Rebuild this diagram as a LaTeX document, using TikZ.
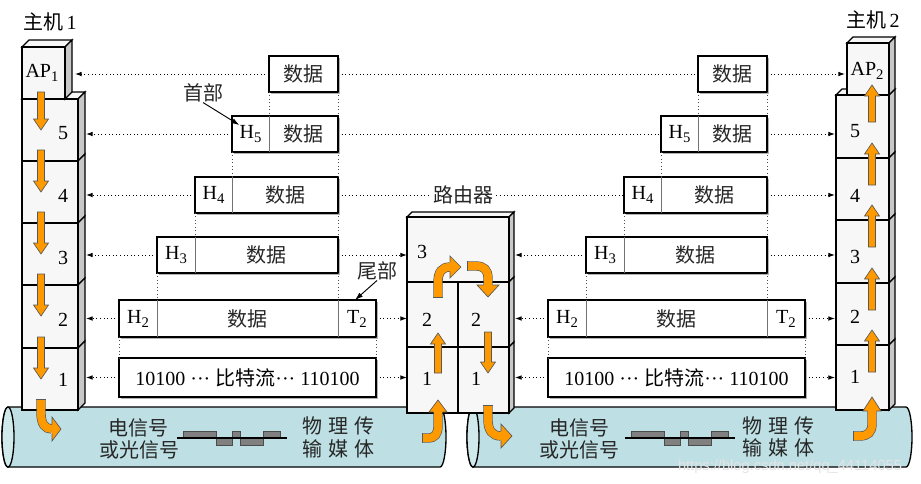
\documentclass[tikz,border=0pt]{standalone}
\usepackage{fontspec}
\setmainfont{Liberation Serif}
\newfontfamily\cjk{Noto Sans CJK SC}
\newfontfamily\wmfont{Liberation Sans}
\usetikzlibrary{fit,calc,arrows.meta,shadows}
\definecolor{ora}{RGB}{255,153,0}
\definecolor{tube}{RGB}{190,224,228}
\definecolor{tubecap}{RGB}{208,234,236}
\definecolor{sidegray}{RGB}{200,200,200}
\definecolor{face}{RGB}{247,247,247}
\newcommand\lsub[1]{\raisebox{-0.45ex}{\fontsize{11}{11}\selectfont #1}}
% tube body with caps
\newcommand\tube[2]{%
  \path[tubeline] (#1,407) -- (#2,407) .. controls (#2+3.3,407) and (#2+6,420.4) .. (#2+6,437) .. controls (#2+6,453.6) and (#2+3.3,467) .. (#2,467) -- (#1,467) .. controls (#1-3.3,467) and (#1-6,453.6) .. (#1-6,437) .. controls (#1-6,420.4) and (#1-3.3,407) .. (#1,407) -- cycle;
  \path[capline] (#1,407) .. controls (#1+3.3,407) and (#1+6,420.4) .. (#1+6,437) .. controls (#1+6,453.6) and (#1+3.3,467) .. (#1,467) .. controls (#1-3.3,467) and (#1-6,453.6) .. (#1-6,437) .. controls (#1-6,420.4) and (#1-3.3,407) .. (#1,407) -- cycle;}
\newcommand\wave[1]{%
  \begin{scope}[shift={(#1,0)}]
  \path[wavefill] (6,438) rectangle (39,431);
  \path[wavefill] (39,438) rectangle (55,445);
  \path[wavefill] (55,438) rectangle (63,431);
  \path[wavefill] (63,438) rectangle (86,445);
  \path[wavefill] (86,438) rectangle (103,431);
  \draw[line width=0.8pt] (0,438) -- (110,438);
  \end{scope}}
\newcommand\slab[6]{%
  \path[sideface] (#4,#3) -- (#4+#6,#3-#6) -- (#4+#6,#5-#6) -- (#4,#5) -- cycle;
  \node[layer, fit={(#2,#3) (#4,#5)}] (#1) {};}
\newcommand\lid[4]{%
  \path[topface] (#1,#2) -- (#1+#4,#2-#4) -- (#3+#4,#2-#4) -- (#3,#2) -- cycle;}
\newcommand\flowdown[3]{%
  \path[flow] (#1-3.5,#2) -- (#1+3.5,#2) -- (#1+3.5,#3-11) -- (#1+7.5,#3-11) -- (#1,#3) -- (#1-7.5,#3-11) -- (#1-3.5,#3-11) -- cycle;}
\newcommand\flowup[3]{%
  \path[flow] (#1-3.5,#2) -- (#1+3.5,#2) -- (#1+3.5,#3+11) -- (#1+7.5,#3+11) -- (#1,#3) -- (#1-7.5,#3+11) -- (#1-3.5,#3+11) -- cycle;}
\newcommand\headR[4]{%
  \path[flow] (#1,#2-4.6) -- (#1,#2-#4) -- (#3,#2) -- (#1,#2+#4) -- (#1,#2+4.6);}
\newcommand\headV[4]{%
  \path[flow] (#1-4.6,#2) -- (#1-#4,#2) -- (#1,#3) -- (#1+#4,#2) -- (#1+4.6,#2);}
\newcommand\frameset[2]{%
  \begin{scope}[shift={(#2,0)}]
  \node[frame, fit={(150,56) (219,92)}] (#1a) {};
  \node[ctxt] (#1at) at (184.5,74) {数据};
  \node[frame, fit={(113,116) (219,152)}] (#15) {};
  \draw[divider] (150,116) -- (150,152);
  \node[txt] (#15h) at (131.5,134) {H\lsub{5}};
  \node[ctxt] (#15t) at (184.5,134) {数据};
  \node[frame, fit={(76,177) (219,213)}] (#14) {};
  \draw[divider] (113,177) -- (113,213);
  \node[txt] (#14h) at (94.5,195) {H\lsub{4}};
  \node[ctxt] (#14t) at (166,195) {数据};
  \node[frame, fit={(38,237) (219,273)}] (#13) {};
  \draw[divider] (76,237) -- (76,273);
  \node[txt] (#13h) at (57,255) {H\lsub{3}};
  \node[ctxt] (#13t) at (147.5,255) {数据};
  \node[frame, fit={(0,300) (257,337)}] (#12) {};
  \draw[divider] (38,300) -- (38,337);
  \draw[divider] (219,300) -- (219,337);
  \node[txt] (#12h) at (19,319) {H\lsub{2}};
  \node[ctxt] (#12t) at (128.5,319) {数据};
  \node[txt] (#12e) at (238,319) {T\lsub{2}};
  \node[frame, fit={(0,358) (257,397)}] (#11) {};
  \node[txt] (#11t) at (128.5,378) {10100 ··· {\cjk 比特流}··· 110100};
  \draw[guide] (#1a.south west) -- (#1a.south west |- #15.north);
  \draw[guide] (#1a.south east) -- (#1a.south east |- #15.north);
  \draw[guide] (#15.south west) -- (#15.south west |- #14.north);
  \draw[guide] (#15.south east) -- (#15.south east |- #14.north);
  \draw[guide] (#14.south west) -- (#14.south west |- #13.north);
  \draw[guide] (#14.south east) -- (#14.south east |- #13.north);
  \draw[guide] (#13.south west) -- (#13.south west |- #12.north);
  \draw[guide] (#13.south east) -- (#13.south east |- #12.north);
  \draw[guide] (#12.south west) -- (#12.south west |- #11.north);
  \draw[guide] (#12.south east) -- (#12.south east |- #11.north);
  \end{scope}}
\begin{document}
\begin{tikzpicture}[x=0.75pt,y=-0.75pt,
  txt/.style={inner sep=0pt, font=\fontsize{15}{15}\selectfont},
  ctxt/.style={inner sep=0pt, font=\fontsize{15}{15}\selectfont\cjk, text=black!85},
  frame/.style={draw, line width=1.5pt, fill=white, inner sep=0pt, outer sep=0pt,
    drop shadow={shadow xshift=1.6pt, shadow yshift=-1.6pt, fill=black!30, opacity=1}},
  layer/.style={draw, line width=1pt, fill=face, inner sep=0pt, outer sep=0pt},
  sideface/.style={draw, line width=1pt, fill=sidegray},
  topface/.style={draw, line width=1pt, fill=face},
  divider/.style={draw=black!55, line width=0.7pt},
  guide/.style={dotted, line width=0.6pt, black!70},
  link/.style={dotted, line width=0.7pt, -{Latex[length=5pt,width=3.5pt]}},
  plainlink/.style={dotted, line width=0.7pt},
  pointer/.style={line width=0.7pt, -{Latex[length=6pt,width=4pt]}},
  flow/.style={fill=ora, draw=black!65, line width=0.5pt},
  bent/.style={draw=black!65, line width=0.5pt, double=ora, double distance=6pt},
  tailcap/.style={draw=black!65, line width=0.5pt},
  tubeline/.style={draw, line width=1pt, fill=tube},
  capline/.style={draw, line width=1pt, fill=tubecap},
  wavefill/.style={fill=black!50, draw=black!70, line width=0.4pt},
]
\useasboundingbox (0,0) rectangle (921,483);

% transmission media
\tube{8}{440}
\tube{473}{906}
\node[ctxt] (sigL1) at (138,428) {电信号};
\node[ctxt] (sigL2) at (139,450) {或光信号};
\node[ctxt] (medL1) at (338,426) {物\hspace{4.5pt}理\hspace{4.5pt}传};
\node[ctxt] (medL2) at (338,449) {输\hspace{4.5pt}媒\hspace{4.5pt}体};
\wave{177}
\node[ctxt] (sigR1) at (579,428) {电信号};
\node[ctxt] (sigR2) at (579,450) {或光信号};
\node[ctxt] (medR1) at (778,426) {物\hspace{4.5pt}理\hspace{4.5pt}传};
\node[ctxt] (medR2) at (778,448) {输\hspace{4.5pt}媒\hspace{4.5pt}体};
\wave{625}

% host 1
\lid{22}{99}{78}{7}
\slab{hl5}{22}{99}{78}{161}{7}
\slab{hl4}{22}{161}{78}{223}{7}
\slab{hl3}{22}{223}{78}{285}{7}
\slab{hl2}{22}{285}{78}{348}{7}
\slab{hl1}{22}{348}{78}{410}{7}
\lid{22}{47}{65}{7}
\slab{hlap}{22}{47}{65}{99}{7}
\node[txt] (hlapt) at (42,73) {AP\lsub{1}};
\node[txt] (hl5t) at (63,133) {5};
\node[txt] (hl4t) at (63,196) {4};
\node[txt] (hl3t) at (63,258) {3};
\node[txt] (hl2t) at (63,320) {2};
\node[txt] (hl1t) at (63,380) {1};
\node[txt] (host1) at (50,22) {{\cjk 主机}\,1};

% host 2
\lid{836}{95}{889}{6}
\slab{hr5}{836}{95}{889}{158}{6}
\slab{hr4}{836}{158}{889}{220}{6}
\slab{hr3}{836}{220}{889}{283}{6}
\slab{hr2}{836}{283}{889}{345}{6}
\slab{hr1}{836}{345}{889}{410}{6}
\lid{847}{43}{889}{6}
\slab{hrap}{847}{43}{889}{95}{6}
\node[txt] (hrapt) at (867,71) {AP\lsub{2}};
\node[txt] (hr5t) at (855,131) {5};
\node[txt] (hr4t) at (855,196) {4};
\node[txt] (hr3t) at (855,257) {3};
\node[txt] (hr2t) at (855,317) {2};
\node[txt] (hr1t) at (855,377) {1};
\node[txt] (host2) at (873,20) {{\cjk 主机}\,2};

% router
\lid{407}{217}{509}{5}
\slab{rt3}{407}{217}{509}{282}{5}
\slab{rt2b}{458}{282}{509}{347}{5}
\slab{rt1b}{458}{347}{509}{413}{5}
\node[layer, fit={(407,282) (458,347)}] (rt2a) {};
\node[layer, fit={(407,347) (458,413)}] (rt1a) {};
\node[txt] (rt3t) at (422,252) {3};
\node[txt] (rt2at) at (427,320) {2};
\node[txt] (rt2bt) at (476,320) {2};
\node[txt] (rt1at) at (427,379) {1};
\node[txt] (rt1bt) at (476,379) {1};

% protocol data units
\frameset{fl}{119}
\frameset{fr}{548}

% dotted correspondences
\coordinate (lapedge) at (75,0);
\coordinate (lstedge) at (86,0);
\coordinate (rapedge) at (845,0);
\coordinate (rstedge) at (835,0);
\coordinate (rtedge) at (515,0);
\draw[link] (fla.west) -- (fla.west -| lapedge);
\draw[link] (fl5.west) -- (fl5.west -| lstedge);
\draw[link] (fl4.west) -- (fl4.west -| lstedge);
\draw[link] (fl3.west) -- (fl3.west -| lstedge);
\draw[link] (fl2.west) -- (fl2.west -| lstedge);
\draw[link] (fl1.west) -- (fl1.west -| lstedge);
\draw[link] (fra.east) -- (fra.east -| rapedge);
\draw[link] (fr5.east) -- (fr5.east -| rstedge);
\draw[link] (fr4.east) -- (fr4.east -| rstedge);
\draw[link] (fr3.east) -- (fr3.east -| rstedge);
\draw[link] (fr2.east) -- (fr2.east -| rstedge);
\draw[link] (fr1.east) -- (fr1.east -| rstedge);
\draw[plainlink] (fla.east) -- (fra.west);
\draw[plainlink] (fl5.east) -- (fr5.west);
\draw[plainlink] (fl4.east) -- (fr4.west);
\node[ctxt, fill=white, inner sep=2pt] (router) at (463,195) {路由器};
\draw[link] (fl3.east) -- (fl3.east -| rt3.west);
\draw[link] (fr3.west) -- (fr3.west -| rtedge);
\draw[link] (fl2.east) -- (fl2.east -| rt2a.west);
\draw[link] (fr2.west) -- (fr2.west -| rtedge);
\draw[link] (fl1.east) -- (fl1.east -| rt1a.west);
\draw[link] (fr1.west) -- (fr1.west -| rtedge);

% header / trailer labels
\node[ctxt] (hdr) at (203,93) {首部};
\draw[pointer] (hdr.south) -- (fl5h.north west);
\node[ctxt] (tlr) at (377,271) {尾部};
\coordinate (tlrtip) at (355,300);
\draw[pointer] (tlr.south) -- (tlrtip);

% data flow arrows, host 1
\flowdown{41}{92}{130}
\flowdown{41}{150}{192}
\flowdown{41}{212}{254}
\flowdown{41}{274}{316}
\flowdown{41}{337}{379}
\draw[bent] (41,399) -- (41,413) .. controls (41,424) and (45,429) .. (52,429);
\draw[tailcap] (36.3,399) -- (45.7,399);
\headR{52}{429}{61}{12}

% router
\draw[bent] (422,438) -- (428,438) .. controls (435,438) and (438,434) .. (438,426) -- (438,412);
\draw[tailcap] (422,433.3) -- (422,442.7);
\headV{438}{412}{400}{9}
\flowup{438}{373}{333}
\draw[bent] (438,297) -- (438,282) .. controls (438,272) and (442,267) .. (450,267);
\draw[tailcap] (433.3,297) -- (442.7,297);
\headR{450}{267}{461}{11}
\draw[bent] (467,266) -- (476,266) .. controls (484,266) and (488,270) .. (488,278) -- (488,285);
\draw[tailcap] (467,261.3) -- (467,270.7);
\headV{488}{285}{297}{11}
\flowdown{488}{332}{373}
\draw[bent] (488,405) -- (488,420) .. controls (488,430) and (492,436) .. (501,436);
\draw[tailcap] (483.3,405) -- (492.7,405);
\headR{501}{436}{512}{12}

% host 2
\draw[bent] (853,436) -- (860,436) .. controls (868,436) and (872,432) .. (872,424) -- (872,411);
\draw[tailcap] (853,431.3) -- (853,440.7);
\headV{872}{411}{397}{9}
\flowup{872}{372}{330}
\flowup{872}{310}{268}
\flowup{872}{247}{205}
\flowup{872}{185}{143}
\flowup{872}{122}{85}

% watermark
\node[inner sep=0pt, font=\wmfont\fontsize{11}{12}\selectfont, text={rgb,255:red,228;green,228;blue,228}] (wm) at (790,467) {https://blog.csdn.net/qq\_44114055};
\end{tikzpicture}
\end{document}
